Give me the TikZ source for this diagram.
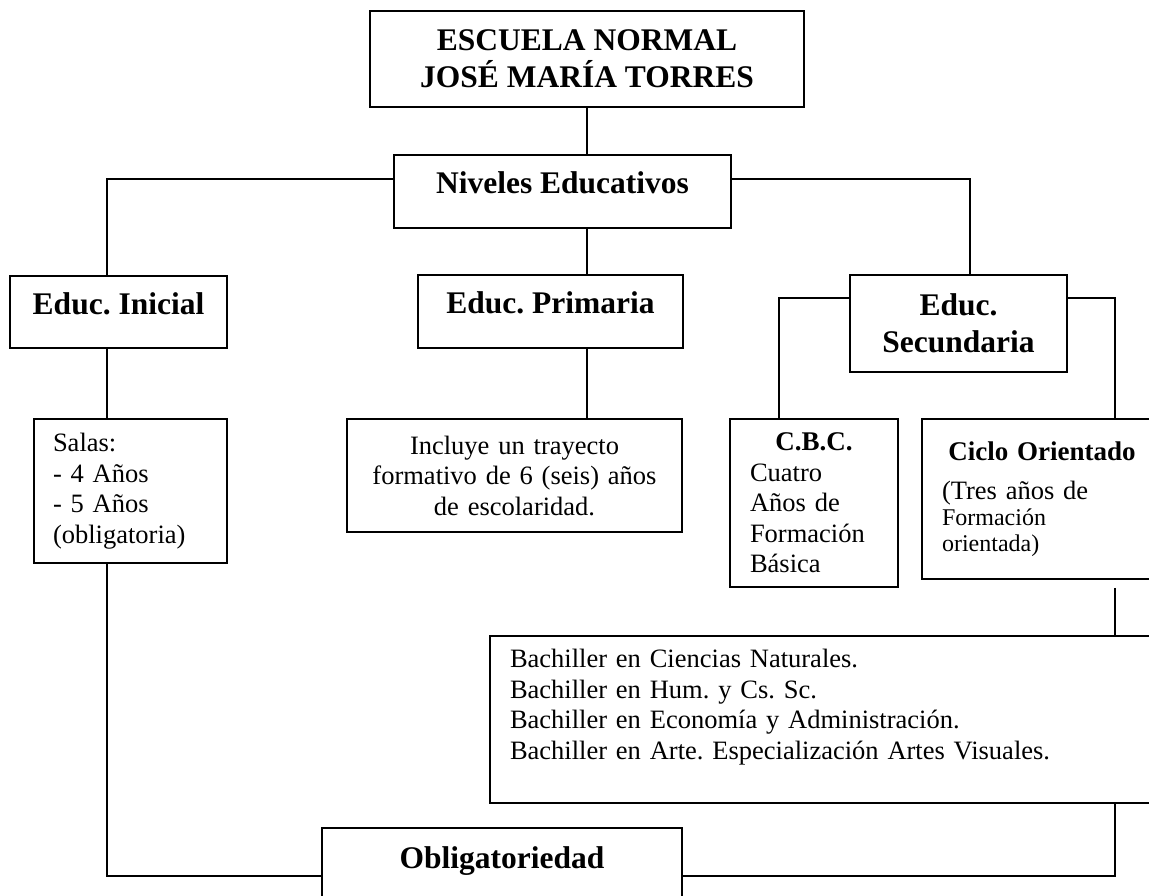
\documentclass[tikz,border=0pt]{standalone}
\usepackage{fontspec}
\setmainfont{Liberation Serif}
\frenchspacing

\begin{document}
\begin{tikzpicture}[x=1pt,y=-1pt,line width=1.7pt,
  box/.style={draw,inner sep=0pt,line width=1.7pt},
  head/.style={box,font=\fontsize{31.5}{37}\selectfont\bfseries,align=center},
  onehead/.style={head,text height=22pt,text depth=18pt},
  body/.style={box,font=\fontsize{26.5}{30.5}\selectfont}]
  \useasboundingbox (0,0) rectangle (1149,895);
  \clip (0,0) rectangle (1149,895);

  \node[head,minimum width=434pt,minimum height=96pt] (escuela) at (587,59) {ESCUELA NORMAL\\JOSÉ MARÍA TORRES};
  \node[onehead,minimum width=337pt,minimum height=73pt] (niveles) at (562.5,191.5) {Niveles Educativos};
  \node[onehead,minimum width=217pt,minimum height=72pt] (inicial) at (118.5,312) {Educ. Inicial};
  \node[onehead,minimum width=265pt,minimum height=73pt] (primaria) at (550.5,311.5) {Educ. Primaria};
  \node[head,minimum width=217pt,minimum height=97pt] (secundaria) at (958.5,323.5) {Educ.\\Secundaria};
  \node[body,minimum width=193pt,minimum height=144pt,text width=155pt,align=left] (salas) at (130.5,491) {Salas:\\- 4 Años\\- 5 Años\\(obligatoria)};
  \node[body,minimum width=335pt,minimum height=113pt,text width=300pt,align=center] (incluye) at (514.5,475.5) {Incluye un trayecto\\formativo de 6 (seis) años\\de escolaridad.};
  \node[body,minimum width=168pt,minimum height=168pt,text width=128pt,align=left] (cbc) at (814,503) {{\centering\bfseries\fontsize{27}{32}\selectfont C.B.C.\par}Cuatro\\Años de\\Formación\\Básica};
  \node[body,minimum width=240pt,minimum height=160pt,text width=200pt,align=left] (ciclo) at (1042,499) {{\centering\bfseries\fontsize{27}{32}\selectfont Ciclo Orientado\par}\vspace{8pt}(Tres años de\par{\fontsize{24}{26}\selectfont Formación\\orientada)\par}};
  \node[body,minimum width=685pt,minimum height=167pt,text width=645pt,align=left] (bachiller) at (832.5,719.5) {Bachiller en Ciencias Naturales.\\Bachiller en Hum. y Cs. Sc.\\Bachiller en Economía y Administración.\\Bachiller en Arte. Especialización Artes Visuales.\\~};
  \node[onehead,minimum width=360pt,minimum height=76pt] (obliga) at (502,866) {Obligatoriedad};

  \draw (escuela.south) -- (escuela.south |- niveles.north);
  \draw ([yshift=-25pt]niveles.north west) -| ([xshift=-11.5pt]inicial.north);
  \draw ([yshift=-25pt]niveles.north east) -| ([xshift=11.5pt]secundaria.north);
  \draw (escuela.south |- niveles.south) -- (escuela.south |- primaria.north);
  \draw (escuela.south |- primaria.south) -- (escuela.south |- incluye.north);
  \draw ([xshift=-11.5pt]inicial.south) -- ([xshift=-11.5pt]inicial.south |- salas.north);
  \draw ([xshift=-11.5pt]inicial.south |- salas.south) |- ([yshift=-10pt]obliga.west);
  \draw ([yshift=-24pt]secundaria.north west) -| ([xshift=-35pt]cbc.north);
  \draw ([yshift=-24pt]secundaria.north east) -| ([xshift=73pt]ciclo.north);
  \draw ([xshift=73pt,yshift=-8pt]ciclo.south) -- ([xshift=73pt]ciclo.south |- bachiller.north);
  \draw ([xshift=73pt]ciclo.south |- bachiller.south) |- ([yshift=-10pt]obliga.east);
\end{tikzpicture}
\end{document}
